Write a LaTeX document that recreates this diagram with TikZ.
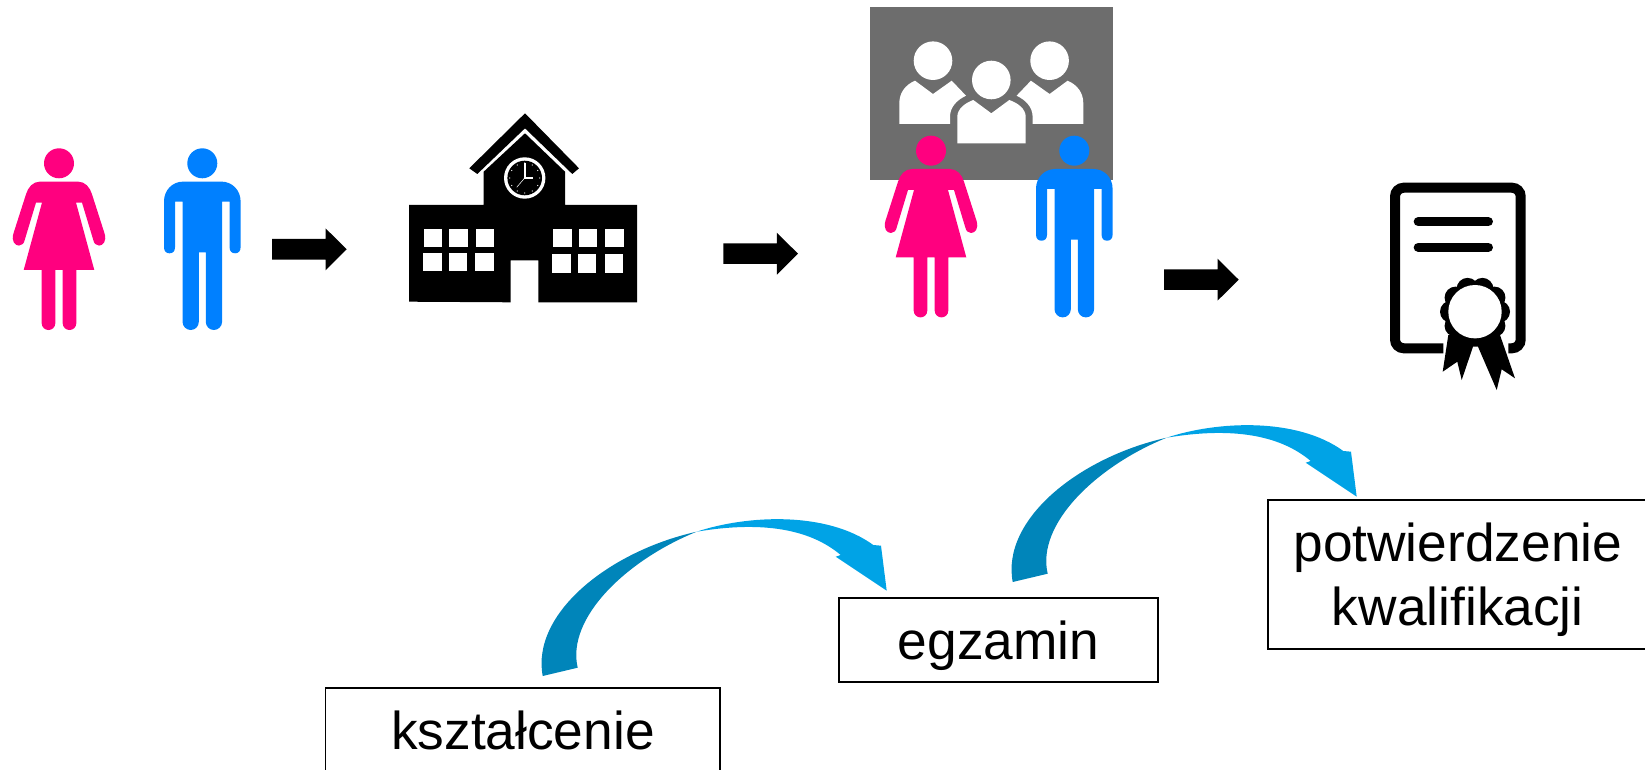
\documentclass[tikz,border=0pt]{standalone}
\usepackage{fontspec}
\setmainfont{Liberation Sans}

\definecolor{womanpink}{HTML}{FF007F}
\definecolor{manblue}{HTML}{0080FF}
\definecolor{boardgrey}{HTML}{6D6D6D}
\definecolor{curvedark}{HTML}{0085BA}
\definecolor{curvelight}{HTML}{00A3E6}

\tikzset{
    labelbox/.style={draw=black, line width=0.5pt, inner xsep=0pt, inner ysep=0pt,
        font=\fontsize{15.15}{18.2}\selectfont, align=center},
    pics/woman/.style={code={
        \fill[womanpink] (0, 0) circle [radius=15];
        \fill[womanpink] (-19, 18.3) -- (19, 18.3)
            .. controls (26, 18.3) and (31, 24) .. (33, 31)
            -- (45.5, 70) .. controls (48, 78) and (44, 82.3) .. (40, 82.3)
            .. controls (37, 82.3) and (35, 80) .. (34.3, 76.7)
            -- (23, 39.3) -- (17, 39.3) -- (35.3, 106.7) -- (17.3, 106.7) -- (17.3, 160)
            .. controls (17.3, 164) and (14, 166.7) .. (10.5, 166.7)
            .. controls (7, 166.7) and (3.7, 164) .. (3.7, 160)
            -- (3.7, 106.7) -- (-3.7, 106.7) -- (-3.7, 160)
            .. controls (-3.7, 164) and (-7, 166.7) .. (-10.5, 166.7)
            .. controls (-14, 166.7) and (-17.3, 164) .. (-17.3, 160)
            -- (-17.3, 106.7) -- (-35.3, 106.7) -- (-17, 39.3) -- (-23, 39.3) -- (-34.3, 76.7)
            .. controls (-35, 80) and (-37, 82.3) .. (-40, 82.3)
            .. controls (-44, 82.3) and (-48, 78) .. (-45.5, 70)
            -- (-33, 31) .. controls (-31, 24) and (-26, 18.3) .. (-19, 18.3) -- cycle;
    }},
    pics/man/.style={code={
        \fill[manblue] (0, 0) circle [radius=15];
        \fill[manblue] (-19, 18.3) -- (19, 18.3)
            .. controls (30, 18.3) and (38.3, 27) .. (38.3, 38)
            -- (38.3, 84) .. controls (38.3, 88) and (36, 90) .. (32.8, 90)
            .. controls (29.5, 90) and (27.3, 88) .. (27.3, 84)
            -- (27.3, 38.3) -- (19.8, 38.3) -- (19.8, 158.5)
            .. controls (19.8, 163) and (16, 166.7) .. (11.6, 166.7)
            .. controls (7, 166.7) and (3.5, 163) .. (3.5, 158.5)
            -- (3.5, 89) -- (-3.5, 89) -- (-3.5, 158.5)
            .. controls (-3.5, 163) and (-7, 166.7) .. (-11.6, 166.7)
            .. controls (-16, 166.7) and (-19.8, 163) .. (-19.8, 158.5)
            -- (-19.8, 38.3) -- (-27.3, 38.3) -- (-27.3, 84)
            .. controls (-27.3, 88) and (-29.5, 90) .. (-32.8, 90)
            .. controls (-36, 90) and (-38.3, 88) .. (-38.3, 84)
            -- (-38.3, 38) .. controls (-38.3, 27) and (-30, 18.3) .. (-19, 18.3) -- cycle;
    }},
    pics/blockarrow/.style={code={
        \fill[black] (0, -10.3) -- (53.5, -10.3) -- (53.5, -21) -- (74.7, 0)
            -- (53.5, 21) -- (53.5, 10.3) -- (0, 10.3) -- cycle;
    }},
    pics/curvearrow/.style={code={
        \fill[curvedark] (22.7, 176) .. controls (11, 113) and (90, 51) .. (176.7, 31.7)
            .. controls (106.7, 60) and (46, 118) .. (57.7, 167.7) -- cycle;
        \fill[curvelight] (176.7, 31.7) .. controls (226.7, 15) and (306.7, 11) .. (353.3, 45)
            -- (361, 45.7) -- (366.7, 90.7) -- (315.7, 56.7) -- (320.7, 55)
            .. controls (283.3, 23.3) and (226.7, 23.3) .. (176.7, 31.7) -- cycle;
    }},
}

\begin{document}
\begin{tikzpicture}[x=0.01cm, y=-0.01cm]
    \useasboundingbox (0, 0) rectangle (1645, 770);

    \fill[boardgrey] (870, 6.7) rectangle (1112.7, 180);

    \fill[white] (933, 60.7) circle [radius=19.3];
    \fill[white] (1049.6, 60.7) circle [radius=19.3];
    \fill[white] (991.3, 80) circle [radius=19.3];
    \fill[white] (899.3, 124) -- (950, 124) -- (950, 116.7)
        .. controls (950, 107) and (957, 100) .. (966, 95.7)
        -- (951.7, 80.7) -- (933, 94) -- (915, 80.7)
        .. controls (905, 85) and (899.3, 93) .. (899.3, 103.3) -- cycle;
    \fill[white] (1083.3, 124) -- (1032.6, 124) -- (1032.6, 116.7)
        .. controls (1032.6, 107) and (1025.6, 100) .. (1016.6, 95.7)
        -- (1030.9, 80.7) -- (1049.6, 94) -- (1067.6, 80.7)
        .. controls (1077.6, 85) and (1083.3, 93) .. (1083.3, 103.3) -- cycle;
    \fill[white] (957.3, 143.3) -- (1025.7, 143.3) -- (1025.7, 116.7)
        .. controls (1025.7, 109) and (1018, 103) .. (1009.3, 100)
        -- (991.3, 113.3) -- (973.3, 100)
        .. controls (965, 103) and (957.3, 109) .. (957.3, 116.7) -- cycle;

    \foreach \x/\y in {59/163.3, 931/150.7}
        \pic at (\x, \y) {woman};
    \foreach \x/\y in {202.3/163.3, 1074.3/150.7}
        \pic at (\x, \y) {man};
    \foreach \x/\y in {272/249.3, 723.3/253.7, 1164/279.7}
        \pic at (\x, \y) {blockarrow};

    \fill[black] (525, 113.3) -- (579, 168.3) -- (572.3, 174) -- (525, 128.3)
        -- (477.3, 174) -- (469.3, 168.3) -- cycle;
    \fill[black] (483.7, 205) -- (483.7, 171.7) -- (525, 133.3) -- (565, 171.7) -- (565, 205)
        -- (637, 205) -- (637, 302.3) -- (538.3, 302.3) -- (538.3, 260.3) -- (510.7, 260.3)
        -- (510.7, 302.3) -- (409, 301.7) -- (409, 205) -- cycle;
    \foreach \x in {424, 449.3, 476, 553.3, 578.7, 605.3}
        \fill[white] (\x, 229) rectangle ++(18.3, 17.7);
    \foreach \x in {423.3, 448.7, 475.3}
        \fill[white] (\x, 253.3) rectangle ++(18.3, 18);
    \foreach \x in {552.3, 578, 604.7}
        \fill[white] (\x, 254.3) rectangle ++(18.3, 18.3);
    \fill[white] (524.7, 178) circle [radius=20.7];
    \fill[black] (524.7, 178) circle [radius=17.3];
    \foreach \a in {0, 30, ..., 330}
        \fill[white] (524.7, 178) ++(\a:15) circle [radius=0.6];
    \draw[white, line width=0.5pt] (524.7, 163.3) -- (524.7, 178) -- (533.3, 178);
    \draw[white, line width=0.15pt] (524.7, 178) -- (516.7, 187.3);

    \draw[black, line width=2.85pt, rounded corners=2.5pt] (1443.3, 348.3) -- (1395, 348.3)
        -- (1395, 187.7) -- (1520.7, 187.7) -- (1520.7, 348.3) -- (1508.3, 348.3);
    \foreach \y in {221.7, 247.3}
        \draw[black, line width=2.65pt, line cap=round] (1418.3, \y) -- (1488.3, \y);
    \fill[black] (1448.3, 335) -- (1442.7, 371.7) -- (1457.3, 361.7) -- (1461.7, 380)
        -- (1473, 346.7) -- (1478, 346.7) -- (1496.7, 390) -- (1501.7, 369.3) -- (1515, 378.3)
        -- (1500, 335) -- cycle;
    \foreach \a in {0, 36, ..., 324}
        \fill[black] (1475, 311.7) ++(\a:24) circle [radius=11];
    \fill[black] (1475, 311.7) circle [radius=30];
    \fill[white] (1475, 311.7) circle [radius=26.7];

    \pic at (520, 500) {curvearrow};
    \pic at (990, 406) {curvearrow};

    \node[labelbox, minimum width=112.2pt, minimum height=23.9pt, text height=14.2pt,
        text depth=3.07pt] (ksztalcenie) at (522.9, 729.7) {kształcenie};
    \node[labelbox, minimum width=90.6pt, minimum height=23.9pt, text height=14.2pt,
        text depth=3.07pt] (egzamin) at (998.5, 639.7) {egzamin};
    \node[labelbox, minimum width=108.1pt, minimum height=42.5pt] (potwierdzenie)
        at (1457.8, 574.6) {\rule{0pt}{14.1pt}potwierdzenie\\kwalifikacji};
\end{tikzpicture}
\end{document}
